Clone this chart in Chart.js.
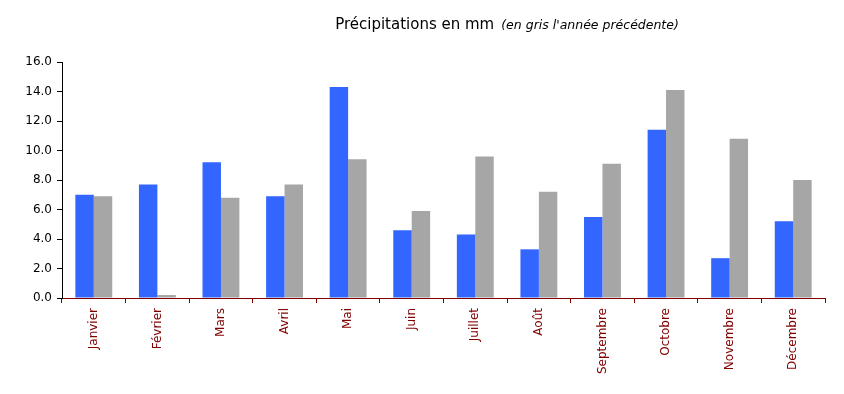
<!DOCTYPE html>
<html>
<head>
<meta charset="utf-8">
<script src="https://cdn.jsdelivr.net/npm/chart.js@4"></script>
<style>
html,body{margin:0;padding:0;background:#fff;}
#wrap{position:relative;width:844px;height:394px;}
</style>
</head>
<body>
<div id="wrap"><canvas id="c" width="844" height="394"></canvas></div>
<script>
const months = ['Janvier','Février','Mars','Avril','Mai','Juin','Juillet','Août','Septembre','Octobre','Novembre','Décembre'];
const currentYear = [7.0, 7.7, 9.2, 6.9, 14.3, 4.6, 4.3, 3.3, 5.5, 11.4, 2.7, 5.2];
const previousYear = [6.9, 0.2, 6.8, 7.7, 9.4, 5.9, 9.6, 7.2, 9.1, 14.1, 10.8, 8.0];
const titleMain = 'Précipitations en mm';
const titleSub = '(en gris l\'année précédente)';

const titlePlugin = {
  id: 'twoPartTitle',
  afterDraw(chart) {
    const ctx = chart.ctx;
    ctx.save();
    ctx.fillStyle = '#000';
    ctx.textBaseline = 'alphabetic';
    ctx.textAlign = 'left';
    ctx.font = '15px "DejaVu Sans"';
    const w1 = ctx.measureText(titleMain).width;
    ctx.font = 'italic 12.5px "DejaVu Sans"';
    const w2 = ctx.measureText(titleSub).width;
    const gap = 7;
    const total = w1 + gap + w2;
    const x0 = 507 - total / 2;
    ctx.font = '15px "DejaVu Sans"';
    ctx.fillText(titleMain, x0, 29);
    ctx.font = 'italic 12.5px "DejaVu Sans"';
    ctx.fillText(titleSub, x0 + w1 + gap, 29);
    ctx.restore();
  }
};

new Chart(document.getElementById('c'), {
  type: 'bar',
  data: {
    labels: months,
    datasets: [
      { data: currentYear, backgroundColor: '#3366FF', borderWidth: 0 },
      { data: previousYear, backgroundColor: '#A6A6A6', borderWidth: 0 }
    ]
  },
  options: {
    responsive: false,
    animation: false,
    categoryPercentage: 0.58,
    barPercentage: 1.0,
    layout: { padding: { left: 0, right: 19, top: 62, bottom: 0 } },
    plugins: { legend: { display: false }, title: { display: false }, tooltip: { enabled: false } },
    scales: {
      x: {
        offset: true,
        grid: { display: true, drawOnChartArea: false, drawTicks: true, tickLength: 5, color: '#800000', offset: true },
        border: { display: true, color: '#800000', width: 1 },
        ticks: { color: '#800000', font: { family: 'DejaVu Sans', size: 12 }, minRotation: 90, maxRotation: 90, padding: 5, autoSkip: false },
        afterFit(s) { s.height = 96; }
      },
      y: {
        min: 0, max: 16,
        ticks: { stepSize: 2, color: '#000', font: { family: 'DejaVu Sans', size: 12 }, padding: 5, callback: v => v.toFixed(1) },
        grid: { display: true, drawOnChartArea: false, drawTicks: true, tickLength: 5, color: '#000' },
        border: { display: true, color: '#000', width: 1 },
        afterFit(s) { s.width = 62; }
      }
    }
  },
  plugins: [titlePlugin]
});
</script>
</body>
</html>
